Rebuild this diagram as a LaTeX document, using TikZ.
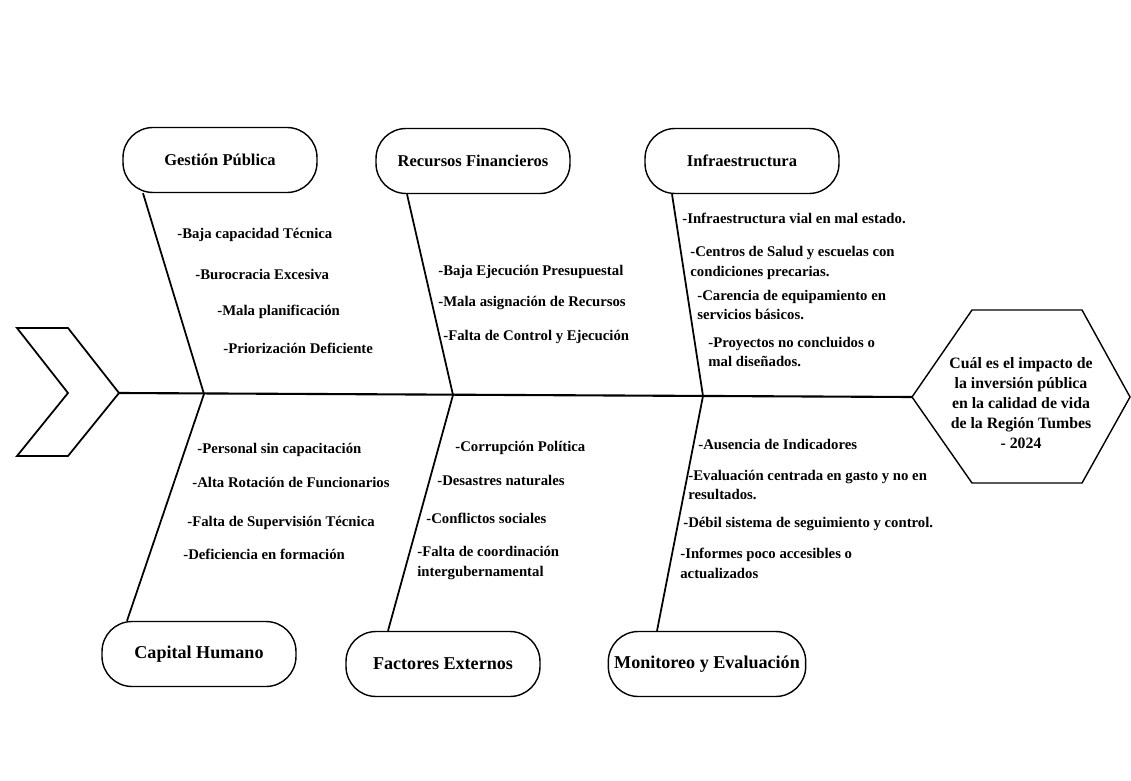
\documentclass[tikz,border=0pt]{standalone}
\usepackage{fontspec}
\setmainfont{Liberation Serif}
\usetikzlibrary{calc}

\begin{document}
\begin{tikzpicture}[x=0.02cm, y=-0.02cm,
  cat/.style={draw, line width=0.8pt, rounded corners=0.6cm, minimum width=3.88cm, minimum height=1.3cm, font=\bfseries\fontsize{9.4}{11}\selectfont},
  catb/.style={cat, font=\bfseries\fontsize{10.3}{12}\selectfont},
  cause/.style={anchor=west, inner sep=0pt, align=left, font=\bfseries\fontsize{8.4}{11.3}\selectfont},
  bone/.style={line width=1pt}]
\useasboundingbox (0,0) rectangle (1131,780);

% cola del pez
\draw[line width=1pt] (17,328) -- (68,328) -- (119,393) coordinate (tail) -- (68,456) -- (17,456) -- (68,393) -- cycle;

% cabeza: el problema
\draw[line width=0.8pt] (912,397) coordinate (head) -- (972,310) -- (1082,310) -- (1130,397) -- (1082,483) -- (972,483) -- cycle;
\node[align=center, inner sep=0pt, font=\bfseries\fontsize{9}{11.3}\selectfont] (efecto) at (1021,403)
  {Cuál es el impacto de\\ la inversión pública\\ en la calidad de vida\\ de la Región Tumbes\\ - 2024};

% espina central
\draw[line width=1.2pt] (tail) -- (head);
\coordinate (g1) at (204,394);
\coordinate (r1) at (453,395);
\coordinate (i1) at (703,396);

% categorias
\node[cat] (gestion) at (220,160) {Gestión Pública};
\node[cat] (recursos) at (473,161) {Recursos Financieros};
\node[cat] (infra) at (742,161) {Infraestructura};
\node[catb] (capital) at (199,654) {Capital Humano};
\node[catb] (externos) at (443,664) {Factores Externos};
\node[catb] (monitoreo) at (707,664) {Monitoreo y Evaluación};

% espinas
\draw[bone] ($(gestion.south)+(-77,0)$) -- (g1) -- ($(capital.north)+(-72,0)$);
\draw[bone] ($(recursos.south)+(-66,0)$) -- (r1) -- ($(externos.north)+(-55,0)$);
\draw[bone] ($(infra.south)+(-70,0)$) -- (i1) -- ($(monitoreo.north)+(-50,0)$);

% causas - gestion publica
\node[cause] (g-a) at (177,235) {-Baja capacidad Técnica};
\node[cause] (g-b) at (195,274) {-Burocracia Excesiva};
\node[cause] (g-c) at (217,312) {-Mala planificación};
\node[cause] (g-d) at (223,348) {-Priorización Deficiente};

% causas - recursos financieros
\node[cause] (r-a) at (438,272) {-Baja Ejecución Presupuestal};
\node[cause] (r-b) at (438,303) {-Mala asignación de Recursos};
\node[cause] (r-c) at (443,337) {-Falta de Control y Ejecución};

% causas - infraestructura
\node[cause] (i-a) at (682,218) {-Infraestructura vial en mal estado.};
\node[cause] (i-b) at (690,263) {-Centros de Salud y escuelas con\\condiciones precarias.};
\node[cause] (i-c) at (697,305) {-Carencia de equipamiento en\\servicios básicos.};
\node[cause] (i-d) at (708,352) {-Proyectos no concluidos o\\mal diseñados.};

% causas - capital humano
\node[cause] (c-a) at (197,450) {-Personal sin capacitación};
\node[cause] (c-b) at (192,482) {-Alta Rotación de Funcionarios};
\node[cause] (c-c) at (187,523) {-Falta de Supervisión Técnica};
\node[cause] (c-d) at (183,554) {-Deficiencia en formación};

% causas - factores externos
\node[cause] (e-a) at (455,448) {-Corrupción Política};
\node[cause] (e-b) at (437,480) {-Desastres naturales};
\node[cause] (e-c) at (426,518) {-Conflictos sociales};
\node[cause] (e-d) at (417,563) {-Falta de coordinación\\intergubernamental};

% causas - monitoreo
\node[cause] (m-a) at (698,444) {-Ausencia de Indicadores};
\node[cause] (m-b) at (688,485) {-Evaluación centrada en gasto y no en\\resultados.};
\node[cause] (m-c) at (683,524) {-Débil sistema de seguimiento y control.};
\node[cause] (m-d) at (680,563) {-Informes poco accesibles o\\actualizados};

\end{tikzpicture}
\end{document}
